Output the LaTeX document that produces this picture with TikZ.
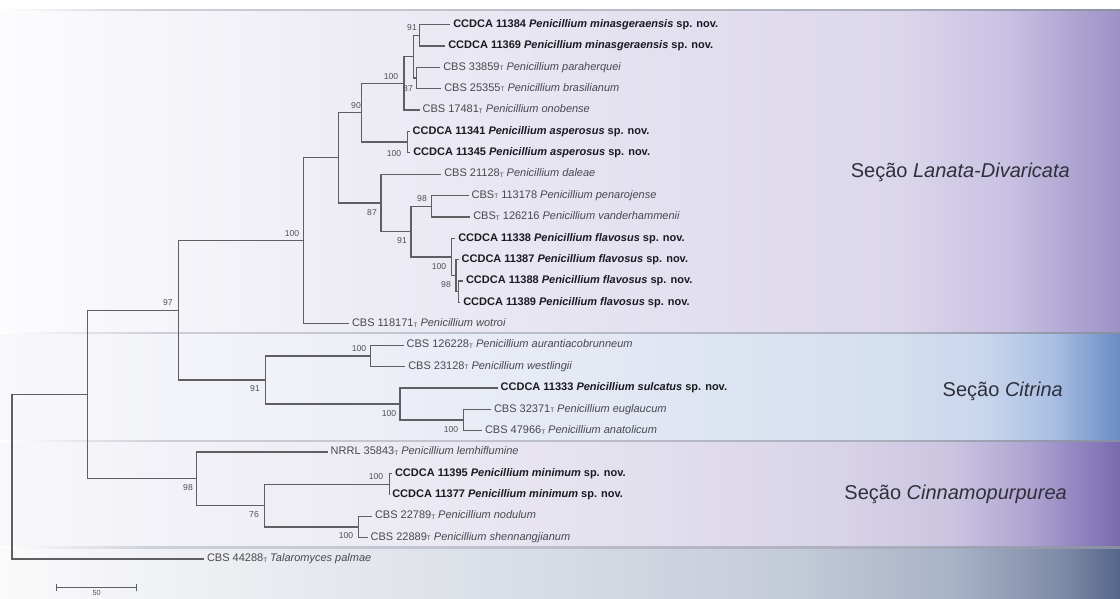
\documentclass[tikz,border=0pt]{standalone}
\usepackage{fontspec}
\setmainfont{Liberation Sans}
\usetikzlibrary{calc}

\definecolor{branchc}{HTML}{5E5E63}
\definecolor{namec}{HTML}{48484F}
\definecolor{boldc}{HTML}{1A1A20}
\definecolor{bsc}{HTML}{505057}
\definecolor{sectc}{HTML}{30303B}

\definecolor{lanA}{HTML}{FCFCFE}
\definecolor{lanB}{HTML}{EEEDF5}
\definecolor{lanC}{HTML}{E3E0EF}
\definecolor{lanD}{HTML}{DCD7EC}
\definecolor{lanE}{HTML}{C9C1E2}
\definecolor{lanF}{HTML}{AEA4D2}
\definecolor{lanG}{HTML}{9D92C6}

\definecolor{citA}{HTML}{F8F8FB}
\definecolor{citB}{HTML}{EEF0F7}
\definecolor{citC}{HTML}{E3E8F3}
\definecolor{citD}{HTML}{D4DFEF}
\definecolor{citE}{HTML}{C8D6ED}
\definecolor{citF}{HTML}{A9BFE2}
\definecolor{citG}{HTML}{6A8CC5}

\definecolor{cinA}{HTML}{F8F7FB}
\definecolor{cinB}{HTML}{EEECF4}
\definecolor{cinC}{HTML}{E4E1EE}
\definecolor{cinD}{HTML}{D8D3E8}
\definecolor{cinE}{HTML}{CBC4E0}
\definecolor{cinF}{HTML}{AEA3D1}
\definecolor{cinG}{HTML}{8D7FBD}
\definecolor{cinH}{HTML}{7A6AAE}

\definecolor{botA}{HTML}{FAFAFB}
\definecolor{botB}{HTML}{E9EBF0}
\definecolor{botC}{HTML}{D6DBE4}
\definecolor{botD}{HTML}{C5CCD9}
\definecolor{botE}{HTML}{A9B3C7}
\definecolor{botF}{HTML}{7D8AA6}
\definecolor{botG}{HTML}{56668A}

\definecolor{sepA}{HTML}{FFFFFF}
\definecolor{sepB}{HTML}{CDCFD8}
\definecolor{sepC}{HTML}{ABAEBC}
\definecolor{sepD}{HTML}{8A8EA2}

\pgfdeclarehorizontalshading{lanshade}{100bp}{color(0bp)=(lanA); color(25bp)=(lanA); color(40bp)=(lanB); color(55bp)=(lanC); color(65bp)=(lanD); color(70bp)=(lanE); color(73bp)=(lanF); color(75bp)=(lanG); color(100bp)=(lanG)}
\pgfdeclarehorizontalshading{citshade}{100bp}{color(0bp)=(citA); color(25bp)=(citA); color(40bp)=(citB); color(52.5bp)=(citC); color(65bp)=(citD); color(69bp)=(citE); color(72bp)=(citF); color(75bp)=(citG); color(100bp)=(citG)}
\pgfdeclarehorizontalshading{cinshade}{100bp}{color(0bp)=(cinA); color(25bp)=(cinA); color(40bp)=(cinB); color(52.5bp)=(cinC); color(62.5bp)=(cinD); color(67.5bp)=(cinE); color(71bp)=(cinF); color(73.5bp)=(cinG); color(75bp)=(cinH); color(100bp)=(cinH)}
\pgfdeclarehorizontalshading{botshade}{100bp}{color(0bp)=(botA); color(25bp)=(botA); color(37.5bp)=(botB); color(50bp)=(botC); color(60bp)=(botD); color(67.5bp)=(botE); color(72.5bp)=(botF); color(75bp)=(botG); color(100bp)=(botG)}
\pgfdeclarehorizontalshading{sepshade}{100bp}{color(0bp)=(sepA); color(25bp)=(sepA); color(32bp)=(sepB); color(65bp)=(sepC); color(75bp)=(sepD); color(100bp)=(sepD)}

\newcommand{\tyT}{\raisebox{-0.6pt}{\fontsize{6.4}{7}\selectfont T}}

\begin{document}
\begin{tikzpicture}[x=1pt,y=-1pt,
  br/.style={draw=branchc, line width=1.25pt},
  leafn/.style={anchor=west, inner sep=0pt, outer xsep=3pt, text height=8pt, text depth=2.5pt, font=\fontsize{11}{13}\selectfont, text=namec},
  newsp/.style={leafn, text=boldc, font=\fontsize{11}{13}\selectfont\bfseries},
  bs/.style={font=\fontsize{8.6}{10}\selectfont, text=bsc, inner sep=0pt},
  sect/.style={font=\fontsize{20}{24}\selectfont, text=sectc, anchor=east, inner sep=0pt},
  sepline/.style={shading=sepshade}]

\useasboundingbox (0,0) rectangle (1120,598);
\fill[white] (0,0) rectangle (1120,598);

% section bands
\shade[shading=lanshade] (0,9.6) rectangle (1120,332.7);
\shade[shading=citshade] (0,332.7) rectangle (1120,440.7);
\shade[shading=cinshade] (0,440.7) rectangle (1120,547.3);
\shade[shading=botshade] (0,547.3) rectangle (1120,598);
\shade[sepline] (0,9.0) rectangle (1120,10.2);
\shade[sepline] (0,332.1) rectangle (1120,333.4);
\shade[sepline] (0,440.1) rectangle (1120,441.4);
\shade[sepline] (0,546.7) rectangle (1120,548.0);

% section labels
\node[sect] (sL) at (1070,172) {Seção \textit{Lanata-Divaricata}};
\node[sect] (sC) at (1063,391) {Seção \textit{Citrina}};
\node[sect] (sP) at (1067,494) {Seção \textit{Cinnamopurpurea}};

% leaves
\node[newsp] (L1) at (450.3,24.5) {CCDCA 11384 \textit{Penicillium minasgeraensis} sp. nov.};
\node[newsp] (L2) at (445.3,45.88) {CCDCA 11369 \textit{Penicillium minasgeraensis} sp. nov.};
\node[leafn] (L3) at (440.3,67.26) {CBS 33859\tyT{} \textit{Penicillium paraherquei}};
\node[leafn] (L4) at (441.3,88.64) {CBS 25355\tyT{} \textit{Penicillium brasilianum}};
\node[leafn] (L5) at (419.7,110.02) {CBS 17481\tyT{} \textit{Penicillium onobense}};
\node[newsp] (L6) at (409.7,131.4) {CCDCA 11341 \textit{Penicillium asperosus} sp. nov.};
\node[newsp] (L7) at (410.3,152.78) {CCDCA 11345 \textit{Penicillium asperosus} sp. nov.};
\node[leafn] (L8) at (441.3,174.16) {CBS 21128\tyT{} \textit{Penicillium daleae}};
\node[leafn] (L9) at (468.7,195.54) {CBS\tyT{} 113178 \textit{Penicillium penarojense}};
\node[leafn] (L10) at (470.3,216.92) {CBS\tyT{} 126216 \textit{Penicillium vanderhammenii}};
\node[newsp] (L11) at (455.3,238.3) {CCDCA 11338 \textit{Penicillium flavosus} sp. nov.};
\node[newsp] (L12) at (458.7,259.68) {CCDCA 11387 \textit{Penicillium flavosus} sp. nov.};
\node[newsp] (L13) at (463,281.06) {CCDCA 11388 \textit{Penicillium flavosus} sp. nov.};
\node[newsp] (L14) at (460.3,302.44) {CCDCA 11389 \textit{Penicillium flavosus} sp. nov.};
\node[leafn] (L15) at (349,323.82) {CBS 118171\tyT{} \textit{Penicillium wotroi}};
\node[leafn] (L16) at (403.7,345.2) {CBS 126228\tyT{} \textit{Penicillium aurantiacobrunneum}};
\node[leafn] (L17) at (405.3,366.58) {CBS 23128\tyT{} \textit{Penicillium westlingii}};
\node[newsp] (L18) at (497.7,387.96) {CCDCA 11333 \textit{Penicillium sulcatus} sp. nov.};
\node[leafn] (L19) at (491,409.34) {CBS 32371\tyT{} \textit{Penicillium euglaucum}};
\node[leafn] (L20) at (482,430.72) {CBS 47966\tyT{} \textit{Penicillium anatolicum}};
\node[leafn] (L21) at (327.7,452.1) {NRRL 35843\tyT{} \textit{Penicillium lemhiflumine}};
\node[newsp] (L22) at (392,473.48) {CCDCA 11395 \textit{Penicillium minimum} sp. nov.};
\node[newsp] (L23) at (389.3,494.86) {CCDCA 11377 \textit{Penicillium minimum} sp. nov.};
\node[leafn] (L24) at (372,516.24) {CBS 22789\tyT{} \textit{Penicillium nodulum}};
\node[leafn] (L25) at (367.7,537.62) {CBS 22889\tyT{} \textit{Penicillium shennangjianum}};
\node[leafn] (L26) at (204,559) {CBS 44288\tyT{} \textit{Talaromyces palmae}};

% internal nodes
\coordinate (n91a) at (419.3,35.19);
\coordinate (n87a) at (416.7,77.95);
\coordinate (nJ) at (413.3,56.57);
\coordinate (n100a) at (404,83.3);
\coordinate (n100b) at (407.7,142.09);
\coordinate (n90) at (361.7,112.7);
\coordinate (n98a) at (431.7,206.23);
\coordinate (nC) at (458.3,291.75);
\coordinate (nB) at (456,275.7);
\coordinate (nA) at (451.7,257.0);
\coordinate (n91b) at (411,231.6);
\coordinate (n87b) at (381,202.9);
\coordinate (nX) at (338.3,157.8);
\coordinate (n100L) at (303.3,240.8);
\coordinate (n100c) at (370.7,355.89);
\coordinate (n100d) at (463.3,420.03);
\coordinate (n100e) at (400,404.0);
\coordinate (n91c) at (265.3,379.9);
\coordinate (n97) at (178.3,310.4);
\coordinate (n100f) at (389.3,484.17);
\coordinate (n100g) at (358.3,526.93);
\coordinate (n76) at (264.3,505.55);
\coordinate (n98b) at (196.7,478.8);
\coordinate (nI) at (87.7,394.6);
\coordinate (root) at (12,476.8);

% branches to leaves
\foreach \p/\c in {n91a/L1, n91a/L2, n87a/L3, n87a/L4, n100a/L5, n100b/L6, n100b/L7,
  n87b/L8, n98a/L9, n98a/L10, nA/L11, nB/L12, nC/L13, nC/L14, n100L/L15,
  n100c/L16, n100c/L17, n100e/L18, n100d/L19, n100d/L20, n98b/L21,
  n100f/L22, n100f/L23, n100g/L24, n100g/L25, root/L26}
  \draw[br] (\p) |- (\c.west);
% branches between internal nodes
\foreach \p/\c in {nJ/n91a, nJ/n87a, n100a/nJ, n90/n100a, n90/n100b, nB/nC, nA/nB,
  n91b/n98a, n91b/nA, n87b/n91b, nX/n90, nX/n87b, n100L/nX, n100e/n100d,
  n91c/n100c, n91c/n100e, n97/n100L, n97/n91c, n76/n100f, n76/n100g,
  n98b/n76, nI/n97, nI/n98b, root/nI}
  \draw[br] (\p) |- (\c);

% bootstrap values
\node[bs] (b1) at (412,28) {91};
\node[bs] (b2) at (408,89) {87};
\node[bs] (b3) at (391,77) {100};
\node[bs] (b4) at (356,106) {90};
\node[bs] (b5) at (394,154) {100};
\node[bs] (b6) at (372,213) {87};
\node[bs] (b7) at (422,199) {98};
\node[bs] (b8) at (402,241) {91};
\node[bs] (b9) at (439,267) {100};
\node[bs] (b10) at (446,285) {98};
\node[bs] (b11) at (292,234) {100};
\node[bs] (b12) at (168,303) {97};
\node[bs] (b13) at (255,389) {91};
\node[bs] (b14) at (359,349) {100};
\node[bs] (b15) at (389,414) {100};
\node[bs] (b16) at (451,430) {100};
\node[bs] (b17) at (188,488) {98};
\node[bs] (b18) at (254,515) {76};
\node[bs] (b19) at (376,477) {100};
\node[bs] (b20) at (346,536) {100};

% scale bar
\coordinate (sbA) at (56.7,587.5);
\coordinate (sbB) at (136.7,587.5);
\draw[br] (sbA) -- (sbB);
\draw[br] ([yshift=-3.5pt]sbA) -- ([yshift=3.5pt]sbA);
\draw[br] ([yshift=-3.5pt]sbB) -- ([yshift=3.5pt]sbB);
\node[bs, anchor=north, font=\fontsize{7.4}{8}\selectfont] (sbl) at (96.7,590.6) {50};
\end{tikzpicture}
\end{document}
